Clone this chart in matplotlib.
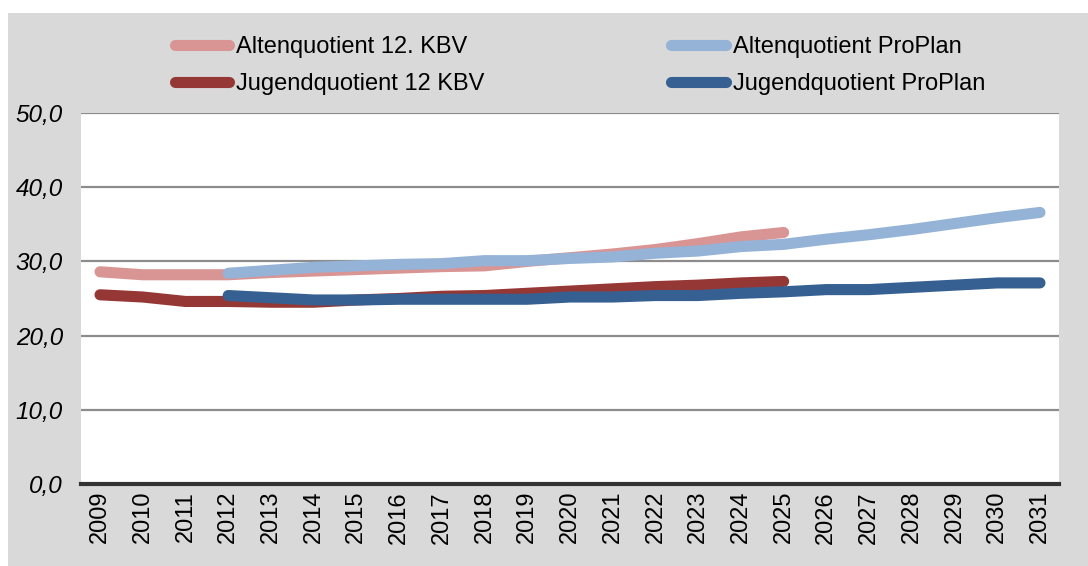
import matplotlib
matplotlib.use("Agg")
import matplotlib.pyplot as plt
from matplotlib.patches import Rectangle

years = [str(y) for y in range(2009, 2032)]

alten_kbv = [28.6, 28.2, 28.2, 28.2, 28.5, 28.7, 28.9, 29.1, 29.3, 29.4, 30.0,
             30.5, 31.0, 31.6, 32.4, 33.3, 33.9]
jugend_kbv = [25.5, 25.2, 24.6, 24.6, 24.5, 24.5, 24.8, 25.0, 25.3, 25.4, 25.7,
              26.0, 26.3, 26.6, 26.8, 27.1, 27.3]
alten_pp = [28.4, 28.8, 29.2, 29.4, 29.6, 29.7, 30.1, 30.1, 30.4, 30.6, 31.1,
            31.4, 32.0, 32.3, 33.0, 33.6, 34.3, 35.1, 35.9, 36.6]
jugend_pp = [25.4, 25.1, 24.8, 24.8, 24.9, 24.9, 24.9, 24.9, 25.2, 25.2, 25.4,
             25.4, 25.7, 25.9, 26.2, 26.2, 26.5, 26.8, 27.1, 27.1]

yticks = [0, 10, 20, 30, 40, 50]
ytick_labels = ["0,0", "10,0", "20,0", "30,0", "40,0", "50,0"]

labels = ["Altenquotient 12. KBV", "Jugendquotient 12 KBV",
          "Altenquotient ProPlan", "Jugendquotient ProPlan"]
colors = ["#d99594", "#953735", "#95b3d7", "#376092"]

plt.rcParams['font.family'] = ['Liberation Sans', 'DejaVu Sans']

W, H = 1088, 566
fig = plt.figure(figsize=(W / 100, H / 100), dpi=100, facecolor="white")
bg = Rectangle((8 / W, 0), 1 - 8 / W, (H - 13) / H,
               transform=fig.transFigure, facecolor="#d9d9d9",
               edgecolor="none", zorder=-10)
fig.patches.append(bg)

ax = fig.add_axes([81 / W, (H - 484) / H, (1059 - 81) / W, (484 - 113) / H])
ax.set_zorder(1)
ax.set_facecolor("white")

x_all = list(range(len(years)))
lw = 8
series = [
    (x_all[:len(alten_kbv)], alten_kbv),
    (x_all[:len(jugend_kbv)], jugend_kbv),
    (x_all[3:3 + len(alten_pp)], alten_pp),
    (x_all[3:3 + len(jugend_pp)], jugend_pp),
]
handles = []
for (xs, ys), c, lab in zip(series, colors, labels):
    h, = ax.plot(xs, ys, color=c, lw=lw, solid_capstyle="round",
                 solid_joinstyle="round", label=lab, zorder=3)
    handles.append(h)

ax.set_xlim(-0.445, len(years) - 1 + 0.445)
ax.set_ylim(0, 50)
ax.set_yticks(yticks)
ax.set_yticklabels(ytick_labels, fontsize=17.5, style="italic")
ax.set_xticks(x_all)
ax.set_xticklabels(years, rotation=90, fontsize=17)
ax.tick_params(axis="x", length=0, pad=5)
ax.tick_params(axis="y", length=0, pad=13)
ax.grid(axis="y", color="#8c8c8c", lw=1.6, zorder=1)
ax.set_axisbelow(True)
for s in ["left", "right", "top"]:
    ax.spines[s].set_visible(False)
ax.spines["bottom"].set_color("#333333")
ax.spines["bottom"].set_linewidth(3)
ax.spines["bottom"].set_zorder(4)

leg = fig.legend(handles=handles, labels=labels, ncol=2, frameon=False,
                 loc="upper left", bbox_to_anchor=(175 / W, 1 - 36 / H),
                 fontsize=17, handlelength=2.3, handletextpad=0.3,
                 columnspacing=7.9, labelspacing=0.63, borderaxespad=0,
                 borderpad=0)
for lh in leg.get_lines():
    lh.set_linewidth(8)
    lh.set_solid_capstyle("round")

fig.savefig("out.png", dpi=100, facecolor=fig.get_facecolor())
